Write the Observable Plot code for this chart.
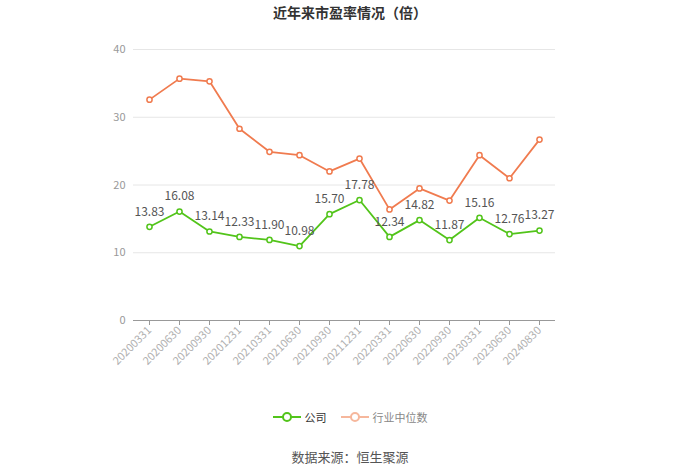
<!DOCTYPE html>
<html><head><meta charset="utf-8">
<script src="https://cdn.jsdelivr.net/npm/d3@7"></script>
<script src="https://cdn.jsdelivr.net/npm/@observablehq/plot@0.6"></script>
<style>
body{margin:0;background:#fff;font-family:"Noto Sans CJK SC","Noto Sans",sans-serif;width:700px;}
#title{height:28px;line-height:24px;text-align:center;font-size:14px;font-weight:bold;color:#333;}
#chart{height:372px;}
#legend{display:flex;justify-content:center;gap:14px;font-size:11px;height:34px;align-items:center;margin-top:0px;}
.item{display:flex;align-items:center;gap:4px;}
#source{text-align:center;font-size:13px;color:#555;margin-top:13px;}
</style></head>
<body>
<div id="title">近年来市盈率情况（倍）</div>
<div id="chart"></div>
<div id="legend">
 <div class="item"><svg width="28" height="12"><line x1="0" y1="6" x2="28" y2="6" stroke="#52c41a" stroke-width="2"/><circle cx="14" cy="6" r="4" fill="#fff" stroke="#52c41a" stroke-width="2"/></svg><span style="color:#333">公司</span></div>
 <div class="item"><svg width="28" height="12"><line x1="0" y1="6" x2="28" y2="6" stroke="#f6b79c" stroke-width="2"/><circle cx="14" cy="6" r="4" fill="#fff" stroke="#f6b79c" stroke-width="2"/></svg><span style="color:#888">行业中位数</span></div>
</div>
<div id="source">数据来源：恒生聚源</div>
<script>
const dates = ["20200331","20200630","20200930","20201231","20210331","20210630","20210930","20211231","20220331","20220630","20220930","20230331","20230630","20240830"];
const company = [13.83,16.08,13.14,12.33,11.90,10.98,15.70,17.78,12.34,14.82,11.87,15.16,12.76,13.27];
const industry = [32.6,35.7,35.3,28.3,24.9,24.4,22.0,23.9,16.4,19.5,17.7,24.4,21.0,26.7];
const yTicks = [0,10,20,30,40];

const comp = dates.map((d,i)=>({d, v: company[i]}));
const ind = dates.map((d,i)=>({d, v: industry[i]}));
const green = "#52c41a", orange = "#f07b4f";

const chart = Plot.plot({
  width: 700, height: 372,
  marginLeft: 133, marginRight: 145, marginTop: 21, marginBottom: 80,
  style: {fontFamily: '"Noto Sans CJK SC","Noto Sans",sans-serif', background: "#fff"},
  x: {type: "point", domain: dates, padding: 0.5, label: null},
  y: {domain: [0, 40], label: null},
  marks: [
    Plot.gridY(yTicks.filter(t=>t>0), {stroke: "#e6e6e6", strokeOpacity: 1}),
    Plot.axisY(yTicks, {tickSize: 0, tickPadding: 8, fontSize: 11, fill: "#999", label: null}),
    Plot.ruleY([0], {stroke: "#999", strokeWidth: 1}),
    Plot.axisX({tickSize: 5, stroke: "#999", tickRotate: -45, fontSize: 11, fill: "#b0b0b0", tickPadding: 3, label: null}),
    Plot.line(ind, {x: "d", y: "v", stroke: orange, strokeWidth: 1.8}),
    Plot.dot(ind, {x: "d", y: "v", r: 2.6, fill: "#fff", stroke: orange, strokeWidth: 1.5}),
    Plot.line(comp, {x: "d", y: "v", stroke: green, strokeWidth: 1.8}),
    Plot.dot(comp, {x: "d", y: "v", r: 2.6, fill: "#fff", stroke: green, strokeWidth: 1.5}),
    Plot.text(comp, {x: "d", y: "v", text: d => d.v.toFixed(2), dy: -15, fontSize: 12, fill: "#555"})
  ]
});
document.getElementById("chart").appendChild(chart);
</script>
</body></html>
